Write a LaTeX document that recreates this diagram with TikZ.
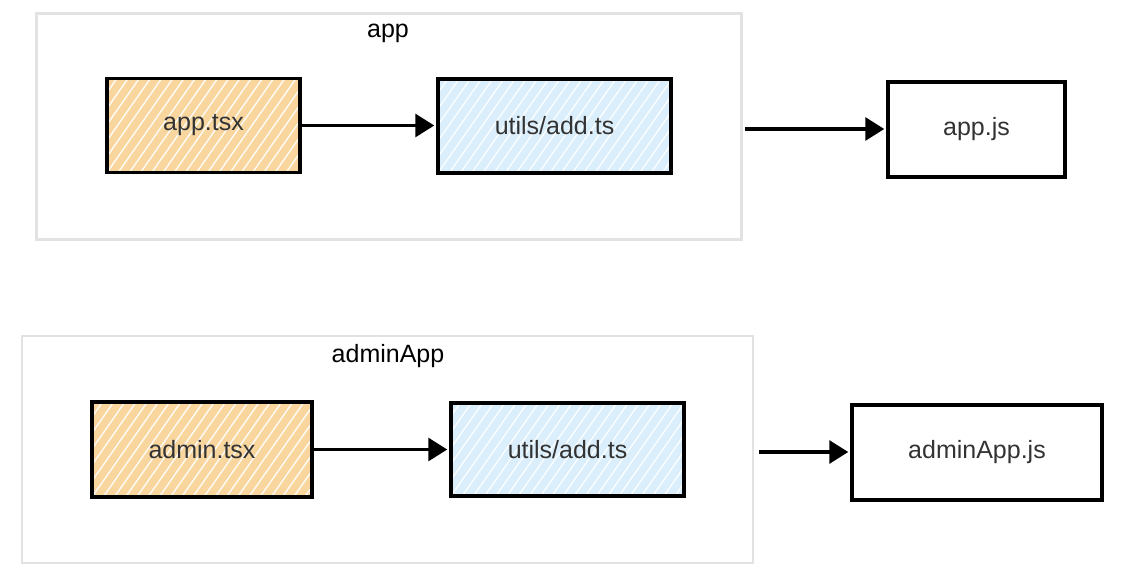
\documentclass[tikz,border=0pt]{standalone}
\usepackage{fontspec}
\setmainfont{Liberation Sans}
\usetikzlibrary{arrows.meta}
\definecolor{orangefill}{RGB}{248,214,158}
\definecolor{bluefill}{RGB}{218,238,252}
\definecolor{boxtext}{RGB}{51,51,51}
\definecolor{groupline}{RGB}{226,226,226}
\tikzset{
  hatched/.style={path picture={
      \foreach \k in {-8,...,24}
        \draw[white, line width=0.7pt, opacity=0.9]
          ([xshift=\k*5.6pt]path picture bounding box.south west) -- ++(55:160pt);
  }},
  filebox/.style={draw=black, line width=1.75pt, font=\fontsize{12.5}{15}\selectfont,
      text=boxtext, inner sep=0pt},
  srcbox/.style={filebox, fill=orangefill, hatched},
  utilbox/.style={filebox, fill=bluefill, hatched},
  outbox/.style={filebox, fill=white},
  group/.style={draw=groupline, line width=1.4pt, inner sep=0pt},
  grouplabel/.style={font=\fontsize{12.5}{15}\selectfont, text=black, inner sep=0pt},
  flow/.style={line width=1.6pt, -{Triangle[length=9.5pt, width=11.5pt]}, shorten >=1pt},
}
\begin{document}
\begin{tikzpicture}[x=0.5pt, y=-0.5pt]
\useasboundingbox (0,0) rectangle (1144,584);
% groups
\node[group, minimum width=352.5pt, minimum height=113pt] (gapp) at (389,126.5) {};
\node[grouplabel] (lapp) at (388,33) {app};
\node[group, minimum width=365.5pt, minimum height=113.5pt] (gadmin) at (387.5,449.5) {};
\node[grouplabel] (ladmin) at (388,356) {adminApp};
% top row
\node[srcbox, minimum width=96.5pt, minimum height=47pt] (apptsx) at (203.5,125.5) {\raisebox{-1pt}{app.tsx}};
\node[utilbox, minimum width=116.5pt, minimum height=47pt] (utilA) at (554.5,126) {\raisebox{-1pt}{utils/add.ts}};
\node[outbox, minimum width=88.5pt, minimum height=47.5pt] (appjs) at (976.5,129.5) {\raisebox{-1pt}{app.js}};
\coordinate (outA) at (745,129);
% bottom row
\node[srcbox, minimum width=110pt, minimum height=47.5pt] (admintsx) at (202,449.5) {\raisebox{-1pt}{admin.tsx}};
\node[utilbox, minimum width=116.5pt, minimum height=46.5pt] (utilB) at (567.5,449.5) {\raisebox{-1pt}{utils/add.ts}};
\node[outbox, minimum width=125pt, minimum height=47.5pt] (adminjs) at (977,452.5) {\raisebox{-1pt}{adminApp.js}};
\coordinate (outB) at (759,452);
% connectors
\draw[flow] (apptsx.east) -- (apptsx.east -| utilA.west);
\draw[flow] (outA) -- (outA -| appjs.west);
\draw[flow] (admintsx.east) -- (admintsx.east -| utilB.west);
\draw[flow] (outB) -- (outB -| adminjs.west);
\end{tikzpicture}
\end{document}
